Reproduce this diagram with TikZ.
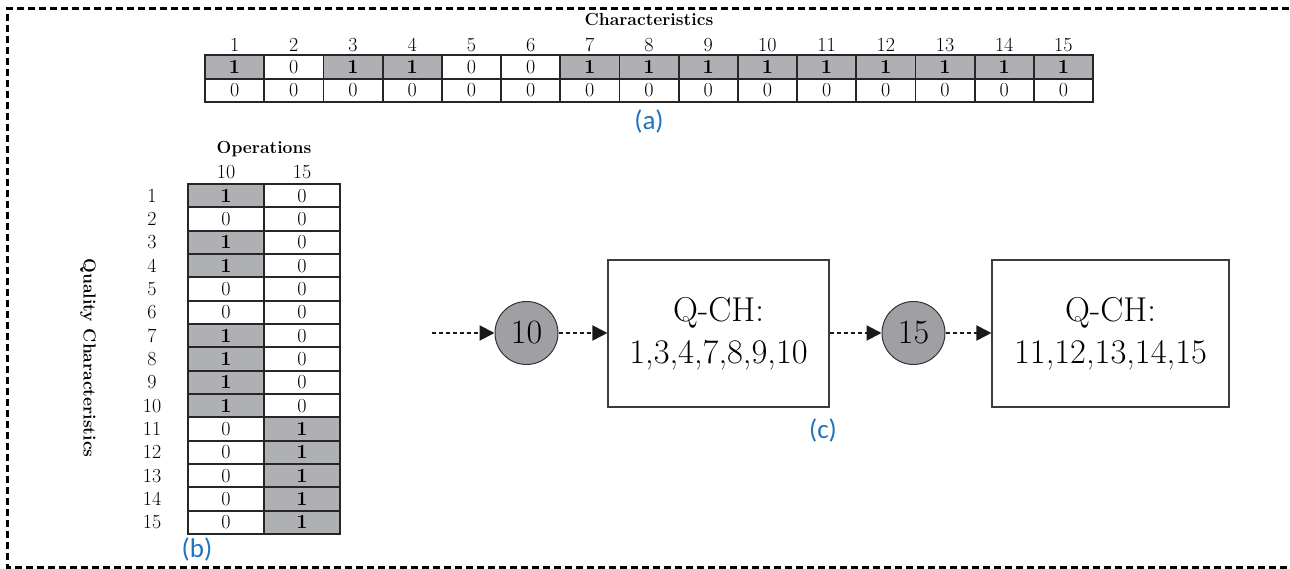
\documentclass[tikz,border=0pt]{standalone}
\usepackage{fontspec}
\newfontfamily\labfont{Carlito}
\usetikzlibrary{arrows.meta}
\definecolor{cellgray}{RGB}{175,176,179}
\definecolor{circgray}{RGB}{160,160,164}
\definecolor{labblue}{RGB}{30,115,190}
\definecolor{boxline}{RGB}{60,60,60}
\begin{document}
\begin{tikzpicture}[x=1pt,y=-1pt,
  cellbase/.style={draw=black!85, line width=1.8pt, inner sep=0pt, anchor=center},
  cell0/.style={cellbase, fill=white, font=\fontsize{20}{20}\selectfont},
  cell1/.style={cellbase, fill=cellgray, font=\fontsize{20}{20}\selectfont\bfseries},
  acell/.style={minimum width=59.2pt, minimum height=23.5pt},
  bcell/.style={minimum width=76pt, minimum height=23.33pt},
  hdr/.style={inner sep=0pt, font=\fontsize{20}{20}\selectfont},
  ttl/.style={inner sep=0pt, font=\fontsize{17.5}{17.5}\selectfont\bfseries},
  lab/.style={inner sep=0pt, text=labblue, font=\labfont\fontsize{27}{27}\selectfont},
  circ/.style={circle, draw=black!80, line width=1pt, fill=circgray, minimum size=63pt, inner sep=0pt, font=\fontsize{34}{34}\selectfont},
  qbox/.style={draw=boxline, line width=1.2pt, fill=white, align=center, inner sep=0pt, font=\fontsize{34.5}{42}\selectfont},
  flow/.style={line width=2pt, dash pattern=on 4pt off 3pt, draw=black!90, -{Triangle[length=15pt,width=15pt]}},
  frame/.style={line width=3pt, dash pattern=on 7pt off 4pt, draw=black}
]
\useasboundingbox (0,0) rectangle (1290,569);
\draw[frame] (1300,9) -- (7,9) -- (7,567) -- (1300,567);

% ---- table (a)
\node[ttl] (atitle) at (649,20) {Characteristics};
\foreach \v [count=\i] in {1,0,1,1,0,0,1,1,1,1,1,1,1,1,1} {
  \pgfmathsetmacro\xx{205+59.2*(\i-0.5)}
  \node[hdr] (ah-\i) at (\xx,45) {\i};
  \node[cell\v,acell] (a1-\i) at (\xx,67) {\v};
  \node[cell0,acell] (a2-\i) at (\xx,90.5) {0};
}
\node[lab] (alab) at (649,121) {(a)};

% ---- table (b)
\node[ttl] (btitle) at (264,149) {Operations};
\node[hdr] (bh-1) at (226,172) {10};
\node[hdr] (bh-2) at (302,172) {15};
\foreach \u/\w [count=\j] in {1/0,0/0,1/0,1/0,0/0,0/0,1/0,1/0,1/0,1/0,0/1,0/1,0/1,0/1,0/1} {
  \pgfmathsetmacro\yy{184+23.33*(\j-0.5)}
  \node[hdr] (br-\j) at (152,\yy) {\j};
  \node[cell\u,bcell] (b1-\j) at (226,\yy) {\u};
  \node[cell\w,bcell] (b2-\j) at (302,\yy) {\w};
}
\node[ttl, rotate=-90] (bside) at (88,358) {Quality Characteristics};
\node[lab] (blab) at (197,549) {(b)};

% ---- flow (c)
\coordinate (start) at (432,333);
\node[circ] (c10) at (526.5,333) {10};
\node[qbox, minimum width=221pt, minimum height=147pt] (q1) at (718.5,333.5) {Q-CH:\\1,3,4,7,8,9,10};
\node[circ] (c15) at (913.5,333) {15};
\node[qbox, minimum width=237pt, minimum height=147pt] (q2) at (1110.5,333.5) {Q-CH:\\11,12,13,14,15};
\draw[flow] (start) -- (c10);
\draw[flow] (c10) -- (c10 -| q1.west);
\draw[flow] (c10 -| q1.east) -- (c15);
\draw[flow] (c15) -- (c15 -| q2.west);
\node[lab] (clab) at (823,430) {(c)};
\end{tikzpicture}
\end{document}
